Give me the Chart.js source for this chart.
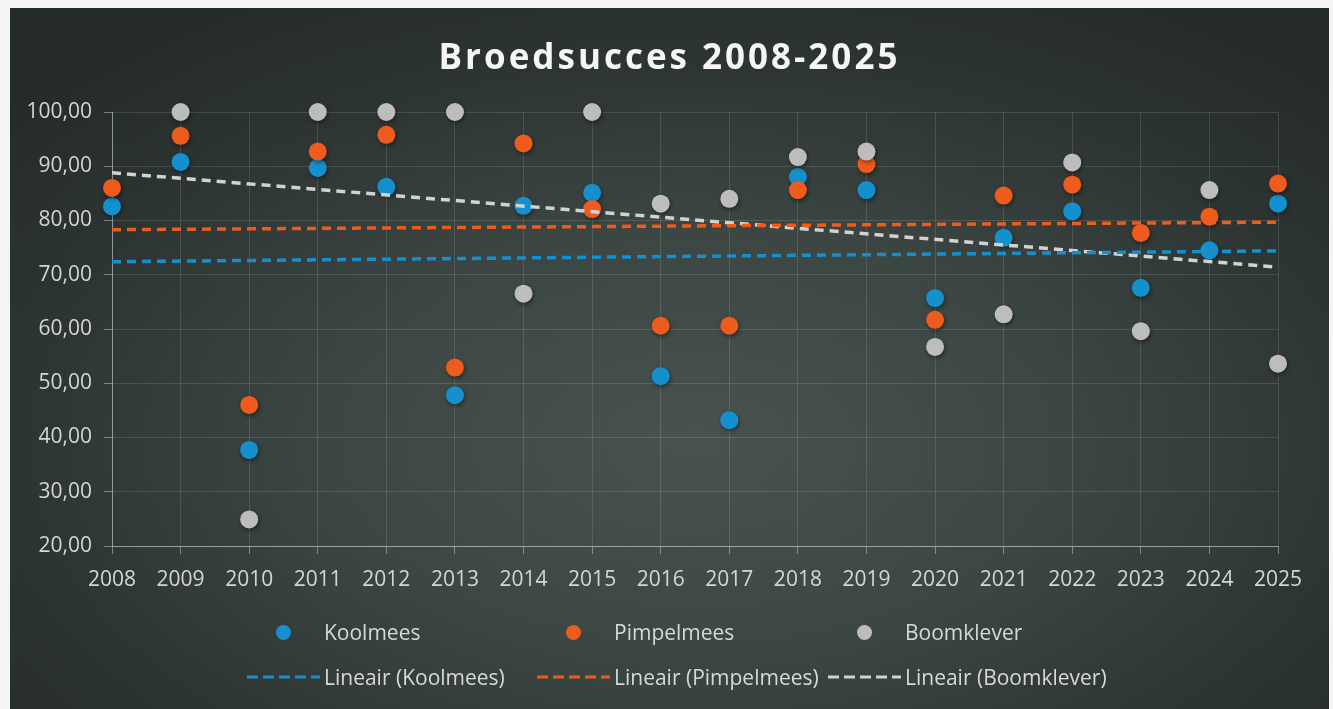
<!DOCTYPE html>
<html>
<head>
<meta charset="utf-8">
<script src="https://cdn.jsdelivr.net/npm/chart.js@4"></script>
<style>
  html, body { margin: 0; padding: 0; background: #f4f5f4; }
  #card {
    position: absolute; left: 10px; top: 8px; width: 1319px; height: 701px;
    background: radial-gradient(ellipse 70% 75% at 52% 62%, #48534f 0%, #3c4643 40%, #2c3432 75%, #242a29 100%);
    overflow: hidden;
  }
  #title {
    position: absolute; left: 0; width: 100%; top: 24px; text-align: center;
    font-family: "Open Sans", sans-serif; font-weight: 700; font-size: 35px;
    letter-spacing: 3px; color: #f6f6f6;
  }
  #chart { position: absolute; left: 0; top: 0; }
  #legend { position: absolute; left: 0; top: 0; width: 100%; height: 100%; pointer-events: none; }
  .item {
    position: absolute; display: flex; align-items: center; height: 26px;
    font-family: "Open Sans", sans-serif; font-size: 21px; color: #d6d9d8;
  }
  .sym { width: 73px; height: 26px; margin-right: 4px; display: flex; align-items: center; justify-content: center; }
  .dot { width: 15px; height: 15px; border-radius: 50%; }
</style>
</head>
<body>
<div id="card">
  <canvas id="chart" width="1319" height="600"></canvas>
  <div id="title">Broedsucces 2008-2025</div>
  <div id="legend"></div>
</div>
<script>
// data
const years = [2008, 2009, 2010, 2011, 2012, 2013, 2014, 2015, 2016, 2017, 2018, 2019, 2020, 2021, 2022, 2023, 2024, 2025];
const koolmees   = [82.6, 90.8, 37.7, 89.7, 86.2, 47.8, 82.7, 85.1, 51.3, 43.2, 88.0, 85.6, 65.7, 76.8, 81.7, 67.6, 74.5, 83.1];
const pimpelmees = [86.0, 95.6, 46.0, 92.7, 95.8, 52.9, 94.2, 82.1, 60.6, 60.6, 85.6, 90.4, 61.7, 84.6, 86.6, 77.7, 80.7, 86.8];
const boomklever = [null, 100, 24.9, 100, 100, 100, 66.5, 100, 83.1, 84.0, 91.7, 92.7, 56.7, 62.7, 90.7, 59.6, 85.6, 53.6];

// trendline end points (Excel "Lineair")
const trendYears = [2008, 2025];
const trendKoolmees   = [72.4, 74.4];
const trendPimpelmees = [78.3, 79.7];
const trendBoomklever = [88.8, 71.4];

const yTicks = [20, 30, 40, 50, 60, 70, 80, 90, 100];

const BLUE = "#1590cf", ORANGE = "#ee5b1d", GREY = "#bdbdbd", GREY_LINE = "#d2d2d2";

const toPoints = (xs, ys) => xs.map((x, i) => ({ x: x, y: ys[i] })).filter(p => p.y !== null);

function dots(label, values, color, order) {
  return {
    label: label, data: toPoints(years, values), order: order, clip: false,
    backgroundColor: color, borderColor: color, borderWidth: 0,
    pointRadius: 9, pointHoverRadius: 9, showLine: false, isDots: true
  };
}
function trend(label, values, color) {
  return {
    label: label, data: toPoints(trendYears, values), order: 0, clip: false,
    borderColor: color, backgroundColor: color, borderWidth: 3.5, borderDash: [9, 6],
    pointRadius: 0, showLine: true
  };
}

const datasets = [
  dots("Koolmees", koolmees, BLUE, 3),
  dots("Pimpelmees", pimpelmees, ORANGE, 2),
  dots("Boomklever", boomklever, GREY, 1),
  trend("Lineair (Koolmees)", trendKoolmees, BLUE),
  trend("Lineair (Pimpelmees)", trendPimpelmees, ORANGE),
  trend("Lineair (Boomklever)", trendBoomklever, GREY_LINE)
];

// soft shadow under the markers
const dotShadow = {
  id: "dotShadow",
  beforeDatasetDraw(chart, args) {
    if (!chart.data.datasets[args.index].isDots) return;
    const ctx = chart.ctx;
    ctx.save();
    ctx.shadowColor = "rgba(0,0,0,0.45)";
    ctx.shadowBlur = 4;
    ctx.shadowOffsetX = 1;
    ctx.shadowOffsetY = 2;
  },
  afterDatasetDraw(chart, args) {
    if (!chart.data.datasets[args.index].isDots) return;
    chart.ctx.restore();
  }
};

const tickFont = { family: "'Open Sans', sans-serif", size: 21 };
const gridColor = "rgba(255,255,255,0.12)";
const tickMark = "rgba(225,225,225,0.45)";

new Chart(document.getElementById("chart"), {
  type: "scatter",
  data: { datasets: datasets },
  plugins: [dotShadow],
  options: {
    responsive: false,
    animation: false,
    layout: { padding: { top: 104, right: 51, left: 0, bottom: 0 } },
    plugins: { legend: { display: false }, title: { display: false }, tooltip: { enabled: false } },
    scales: {
      x: {
        type: "linear", min: years[0], max: years[years.length - 1],
        afterFit: s => { s.height = 62; },
        afterBuildTicks: s => { s.ticks = years.map(v => ({ value: v })); },
        ticks: { color: "#d3d6d5", font: tickFont, padding: 13, autoSkip: false, maxRotation: 0, callback: v => String(v) },
        grid: { color: gridColor, tickColor: tickMark, tickLength: 8 },
        border: { color: "rgba(215,220,222,0.55)", width: 1 }
      },
      y: {
        min: 20, max: 100,
        afterFit: s => { s.width = 102; },
        afterBuildTicks: s => { s.ticks = yTicks.map(v => ({ value: v })); },
        ticks: { color: "#d3d6d5", font: tickFont, padding: 12, callback: v => v.toFixed(2).replace(".", ",") },
        grid: { color: gridColor, tickColor: tickMark, tickLength: 8 },
        border: { color: "rgba(190,205,215,0.6)", width: 1 }
      }
    }
  }
});

// legend in Excel's two-row layout
const legend = document.getElementById("legend");
const cols = [237, 527, 818];
datasets.forEach((ds, i) => {
  const item = document.createElement("div");
  item.className = "item";
  item.style.left = cols[i % 3] + "px";
  item.style.top = (i < 3 ? 611 : 656) + "px";
  const sym = document.createElement("div");
  sym.className = "sym";
  if (ds.isDots) {
    sym.innerHTML = '<div class="dot" style="background:' + ds.backgroundColor + '"></div>';
  } else {
    sym.innerHTML = '<svg width="73" height="6"><line x1="0" y1="3" x2="73" y2="3" stroke="' +
      ds.borderColor + '" stroke-width="3" stroke-dasharray="11 5"/></svg>';
  }
  const txt = document.createElement("span");
  txt.textContent = ds.label;
  item.appendChild(sym);
  item.appendChild(txt);
  legend.appendChild(item);
});
</script>
</body>
</html>
